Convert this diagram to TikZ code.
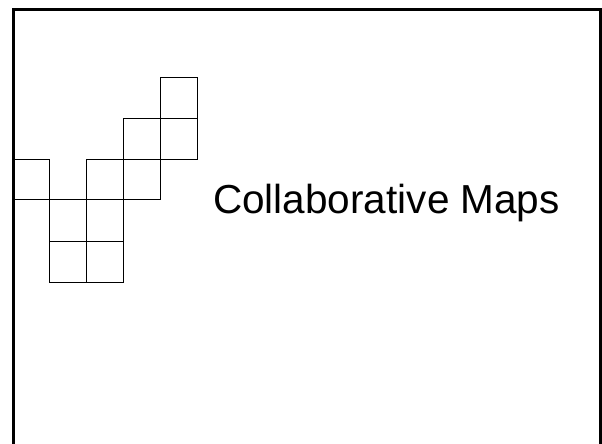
\documentclass[tikz,border=0pt]{standalone}
\usepackage{fontspec}
\setmainfont{Liberation Sans}
\begin{document}
\begin{tikzpicture}[x=1pt,y=-1pt,
  cell/.style={draw=black,line width=0.9pt},
  frame/.style={draw=black,line width=3pt},
  title/.style={font=\fontsize{40.5}{43}\selectfont,inner sep=0pt,anchor=base west}]
\useasboundingbox (0,0) rectangle (602,444);
% frame (bottom edge off the page)
\draw[frame] (13.5,450) -- (13.5,10) -- (600.5,10) -- (600.5,450);
% cells
\draw[cell] (160,77) rectangle (197,118);
\draw[cell] (160,118) rectangle (197,159);
\draw[cell] (123,118) rectangle (160,159);
\draw[cell] (123,159) rectangle (160,199);
\draw[cell] (86,159) rectangle (123,199);
\draw[cell] (86,199) rectangle (123,241);
\draw[cell] (86,241) rectangle (123,282);
\draw[cell] (49.5,199) rectangle (86,241);
\draw[cell] (49.5,241) rectangle (86,282);
\draw[cell] (13.5,159) rectangle (49.5,199);
% title
\node[title] (t) at (213,213) {Collaborative Maps};
\end{tikzpicture}
\end{document}
